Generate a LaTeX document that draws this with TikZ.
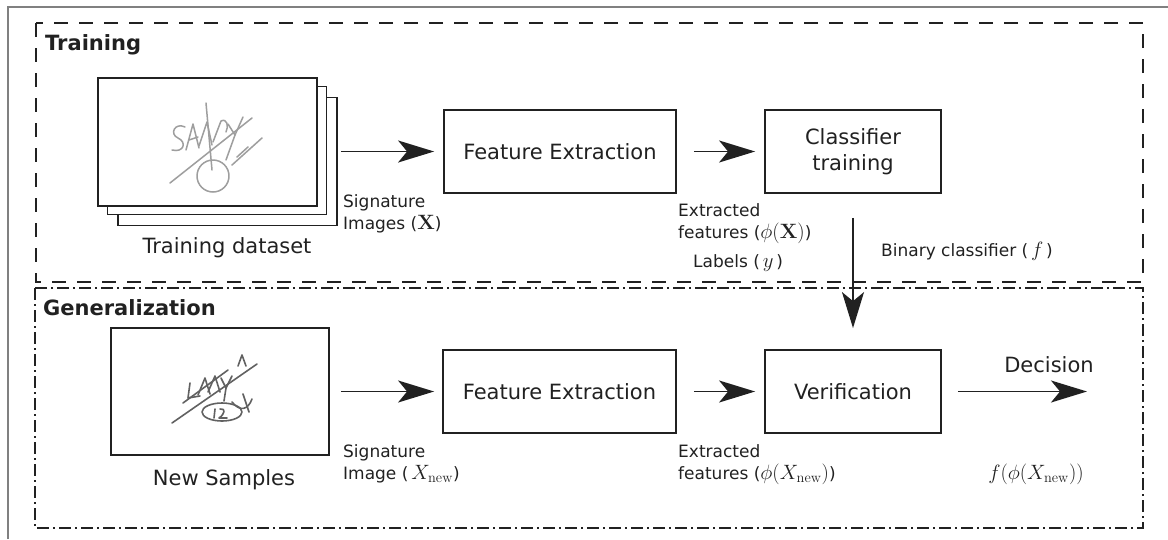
\documentclass[tikz,border=0pt]{standalone}
\usepackage[no-math]{fontspec}
\setmainfont{DejaVu Sans}
\usetikzlibrary{arrows.meta}
\definecolor{ink}{gray}{0.13}
\definecolor{framegray}{gray}{0.5}
\newcommand{\boxfont}{\fontsize{21}{26}\selectfont}
\newcommand{\lblfont}{\fontsize{17}{22}\selectfont}
\newcommand{\headfont}{\fontsize{21}{26}\selectfont\bfseries}
\newcommand{\twoline}[2]{\begin{tabular}[t]{@{}l@{}}#1\\#2\end{tabular}}
% formulas in the labels are set a little larger than the label text
\newcommand{\lm}[1]{{\fontsize{20.5}{22}\selectfont$#1$}}

\begin{document}
\begin{tikzpicture}[x=1pt,y=-1pt,
  procbox/.style={draw=ink, line width=1.8pt, inner sep=0pt, align=center,
    font=\boxfont, text=ink},
  card/.style={draw=ink, line width=1.8pt, fill=white, inner sep=0pt,
    minimum width=219pt, minimum height=128pt},
  flow/.style={draw=ink, line width=1.9pt,
    -{Stealth[length=36pt,width=22pt,inset=9pt]}},
  lbl/.style={font=\lblfont, text=ink, inner sep=0pt},
  bigtxt/.style={font=\boxfont, text=ink, inner sep=0pt},
  head/.style={font=\headfont, text=ink, inner sep=0pt},
  light ink/.style={draw=black!38, line width=1.5pt, line cap=round,
    line join=round, preaction={draw=black!10, line width=4.5pt}},
  dark ink/.style={draw=black!62, line width=1.6pt, line cap=round,
    line join=round, preaction={draw=black!18, line width=4.5pt}},
]
\useasboundingbox (0,0) rectangle (1168,539);

% outer frame
\draw[framegray, line width=1.3pt] (8,539) -- (8,7) -- (1168,7);

% stage frames
\draw[ink, line width=1.8pt, dash pattern=on 14pt off 11pt] (36,23) rectangle (1143,282);
\draw[ink, line width=1.8pt, dash pattern=on 12pt off 4pt on 2pt off 4pt] (35,288) rectangle (1143,528);

\node[head, anchor=base west] (trainhead) at (45,50) {Training};
\node[head, anchor=base west] (genhead) at (43,315) {Generalization};

% ---- training stage ----
\node[card] (back) at (227.5,161.5) {};
\node[card] (mid) at (217,150.5) {};
\node[card] (front) at (207.5,142) {};

% signature scribble on the front card
\begin{scope}[light ink]
  \draw (185,127) .. controls (175,122) and (169,134) .. (178,138)
        .. controls (187,142) and (184,153) .. (172,150);
  \draw (186,150) -- (193,124) -- (199,148);
  \draw (189,140) -- (198,137);
  \draw (199,146) -- (207,122) -- (212,145);
  \draw (206,103) -- (212,170);
  \draw (213,142) -- (221,121) .. controls (227,118) and (229,126) .. (226,132);
  \draw (228,124) -- (235,135) -- (243,117);
  \draw (235,135) -- (226,160);
  \draw (170,183) -- (252,118);
  \draw (213,176) circle[radius=16];
  \draw (262,138) -- (232,165);
  \draw (237,157) -- (248,147);
\end{scope}

\node[bigtxt, anchor=base] (trainset) at (227,253) {Training dataset};

\node[procbox, minimum width=232pt, minimum height=83pt] (fe1) at (560,151.5) {Feature Extraction};
\node[procbox, minimum width=176pt, minimum height=83pt] (ct) at (853,151.5) {Classifier\\training};

\draw[flow, shorten <=3pt, shorten >=9pt] (back.east |- fe1.west) -- (fe1.west);
\draw[flow, shorten <=17pt, shorten >=9pt] (fe1.east) -- (ct.west);

\node[lbl, anchor=base west] (sig1) at (343,207) {\twoline{Signature}{Images (\lm{\mathbf{X}})}};
\node[lbl, anchor=base west] (feat1) at (678,216) {\twoline{Extracted}{features (\lm{\phi(\mathbf{X})})}};
\node[lbl, anchor=base west] (labels) at (693,267) {Labels (\,\lm{y}\,)};
\node[lbl, anchor=base west] (binary) at (881,256) {Binary classifier (\,\lm{f}\,)};

% ---- generalization stage ----
\node[card, minimum width=218pt, minimum height=127pt] (ns) at (220,391.5) {};
\begin{scope}[dark ink]
  \draw (172,423) -- (257,364);
  \draw (183,403) -- (228,370);
  \draw (222,412) ellipse[x radius=20, y radius=9];
  \draw (215,409) -- (214,418);
  \draw (220,409) .. controls (226,408) and (225,414) .. (219,418) -- (227,418);
  \draw (190,383) -- (188,398) -- (200,396);
  \draw (198,395) -- (205,378) -- (210,394);
  \draw (208,392) -- (215,376) -- (220,392);
  \draw (221,378) -- (226,388) -- (232,376);
  \draw (226,388) -- (224,401);
  \draw (232,402) .. controls (240,412) and (248,410) .. (252,399);
  \draw (243,394) -- (249,412);
  \draw (238,366) -- (242,355) -- (246,366);
\end{scope}
\node[bigtxt, anchor=base] (newsamp) at (224,485) {New Samples};

\node[procbox, minimum width=233pt, minimum height=83pt] (fe2) at (559.5,391.5) {Feature Extraction};
\node[procbox, minimum width=176pt, minimum height=83pt] (ver) at (853,391.5) {Verification};
\coordinate (decend) at (1087,391.5);

\draw[flow, shorten <=11pt, shorten >=8pt] (ns.east) -- (fe2.west);
\draw[flow, shorten <=17pt, shorten >=9pt] (fe2.east) -- (ver.west);
\draw[flow, shorten <=16pt] (ver.east) -- (decend);
\draw[flow, shorten <=24pt, shorten >=21pt] (ct.south) -- (ver.north);

\node[bigtxt, anchor=base] (decision) at (1049,372) {Decision};
\node[lbl, anchor=base west] (sig2) at (343,457) {\twoline{Signature}{Image (\,\lm{X_{\mathrm{new}}})}};
\node[lbl, anchor=base west] (feat2) at (678,457) {\twoline{Extracted}{features (\lm{\phi(X_{\mathrm{new}})})}};
\node[lbl, anchor=base] (fout) at (1036,479) {\lm{f(\phi(X_{\mathrm{new}}))}};
\end{tikzpicture}
\end{document}
